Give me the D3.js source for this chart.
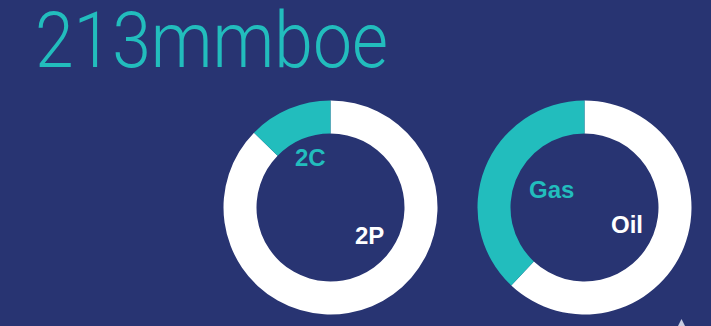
<!DOCTYPE html>
<html><head><meta charset="utf-8">
<script src="https://cdn.jsdelivr.net/npm/d3@7/dist/d3.min.js"></script>
<style>html,body{margin:0;padding:0;background:#283472;overflow:hidden}</style>
</head><body>
<script>
const title = "213mmboe";
const reserveCategories = ["2P", "2C"];
const reserveValues = [186, 27];
const productCategories = ["Oil", "Gas"];
const productValues = [62, 38];
const colors = {"2P": "#ffffff", "2C": "#22bdbd", "Oil": "#ffffff", "Gas": "#22bdbd"};

const W = 711, H = 326;
const svg = d3.select("body").append("svg").attr("width", W).attr("height", H);
svg.append("rect").attr("width", W).attr("height", H).attr("fill", "#283472");

svg.append("text").attr("x", 35).attr("y", 66.5)
  .attr("font-family", "Roboto, 'Liberation Sans', sans-serif")
  .attr("font-weight", 300).attr("font-size", 77)
  .attr("textLength", 353).attr("lengthAdjust", "spacingAndGlyphs")
  .attr("fill", "#22bdbd").text(title);

const pie = d3.pie().sort(null).value(d => d.v);
const arc = d3.arc().innerRadius(74).outerRadius(107);

function donut(cx, cy, cats, vals, labels) {
  const g = svg.append("g").attr("transform", `translate(${cx},${cy})`);
  const data = cats.map((c, i) => ({c, v: vals[i]}));
  g.selectAll("path").data(pie(data)).join("path")
    .attr("d", arc).attr("fill", d => colors[d.data.c]);
  labels.forEach(l => {
    g.append("text").attr("x", l.x).attr("y", l.y)
      .attr("font-family", "'Liberation Sans', Arial, sans-serif")
      .attr("font-weight", "bold").attr("font-size", l.s)
      .attr("fill", colors[l.c]).text(l.c);
  });
}

donut(330.5, 207.5, reserveCategories, reserveValues, [
  {c: "2P", x: 24.5, y: 36.5, s: 24},
  {c: "2C", x: -35.5, y: -41.5, s: 24}
]);
donut(584.5, 207.5, productCategories, productValues, [
  {c: "Oil", x: 26.5, y: 25, s: 24},
  {c: "Gas", x: -55.5, y: -10, s: 24}
]);

svg.append("path").attr("d", "M681.5,319 L685,326 L678,326 Z").attr("fill", "#c8cce0");
</script>
</body></html>
